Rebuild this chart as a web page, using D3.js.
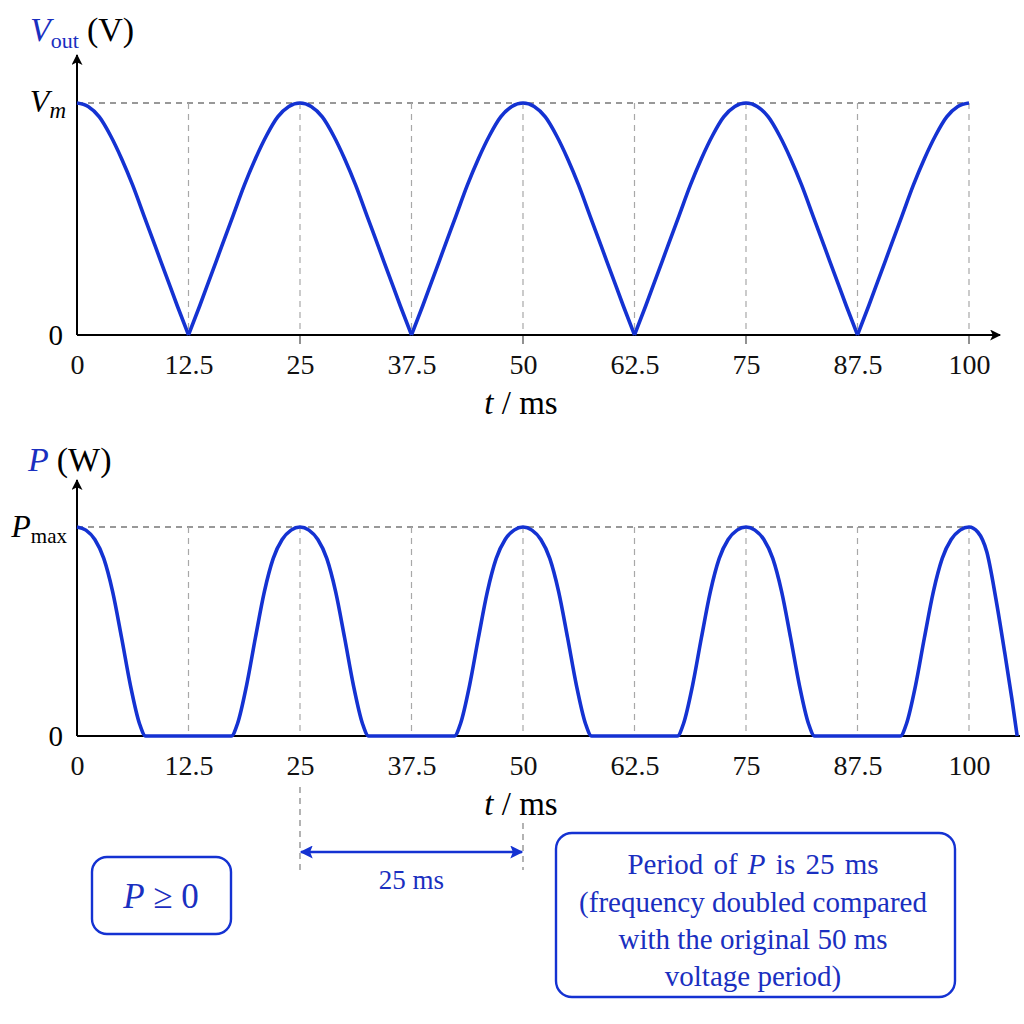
<!DOCTYPE html>
<html>
<head>
<meta charset="utf-8">
<script src="https://cdn.jsdelivr.net/npm/d3@7"></script>
<style>
  body { margin: 0; background: #fff; }
  svg { display: block; font-family: "Liberation Serif", "DejaVu Serif", serif; }
</style>
</head>
<body>
<svg id="chart" width="1024" height="1024"></svg>
<script>
// Tick positions on the time axis (ms)
var tickValues = [0, 12.5, 25, 37.5, 50, 62.5, 75, 87.5, 100];

// Full-wave rectified output voltage, as a fraction of Vm
var vTime = [0, 1.25, 2.5, 3.75, 5, 6.25, 7.5, 8.75, 10, 11.25, 12.5,
             13.75, 15, 16.25, 17.5, 18.75, 20, 21.25, 22.5, 23.75, 25,
             26.25, 27.5, 28.75, 30, 31.25, 32.5, 33.75, 35, 36.25, 37.5,
             38.75, 40, 41.25, 42.5, 43.75, 45, 46.25, 47.5, 48.75, 50,
             51.25, 52.5, 53.75, 55, 56.25, 57.5, 58.75, 60, 61.25, 62.5,
             63.75, 65, 66.25, 67.5, 68.75, 70, 71.25, 72.5, 73.75, 75,
             76.25, 77.5, 78.75, 80, 81.25, 82.5, 83.75, 85, 86.25, 87.5,
             88.75, 90, 91.25, 92.5, 93.75, 95, 96.25, 97.5, 98.75, 100];
var vValue = [1, 0.985, 0.94, 0.86, 0.76, 0.645, 0.515, 0.385, 0.255, 0.125, 0,
              0.125, 0.255, 0.385, 0.515, 0.645, 0.76, 0.86, 0.94, 0.985, 1,
              0.985, 0.94, 0.86, 0.76, 0.645, 0.515, 0.385, 0.255, 0.125, 0,
              0.125, 0.255, 0.385, 0.515, 0.645, 0.76, 0.86, 0.94, 0.985, 1,
              0.985, 0.94, 0.86, 0.76, 0.645, 0.515, 0.385, 0.255, 0.125, 0,
              0.125, 0.255, 0.385, 0.515, 0.645, 0.76, 0.86, 0.94, 0.985, 1,
              0.985, 0.94, 0.86, 0.76, 0.645, 0.515, 0.385, 0.255, 0.125, 0,
              0.125, 0.255, 0.385, 0.515, 0.645, 0.76, 0.86, 0.94, 0.985, 1];

// Instantaneous power, as a fraction of Pmax
var pTime = [0, 1, 2, 3, 4, 5, 6, 7, 7.7,
             17.3, 18, 19, 20, 21, 22, 23, 24, 25, 26, 27, 28, 29, 30, 31, 32, 32.7,
             42.3, 43, 44, 45, 46, 47, 48, 49, 50, 51, 52, 53, 54, 55, 56, 57, 57.7,
             67.3, 68, 69, 70, 71, 72, 73, 74, 75, 76, 77, 78, 79, 80, 81, 82, 82.7,
             92.3, 93, 94, 95, 96, 97, 98, 99, 100, 101, 102, 103, 104, 104.8, 105.4];
var pValue = [1, 0.985, 0.94, 0.85, 0.69, 0.47, 0.24, 0.06, 0,
              0, 0.06, 0.24, 0.47, 0.69, 0.85, 0.94, 0.985, 1, 0.985, 0.94, 0.85, 0.69, 0.47, 0.24, 0.06, 0,
              0, 0.06, 0.24, 0.47, 0.69, 0.85, 0.94, 0.985, 1, 0.985, 0.94, 0.85, 0.69, 0.47, 0.24, 0.06, 0,
              0, 0.06, 0.24, 0.47, 0.69, 0.85, 0.94, 0.985, 1, 0.985, 0.94, 0.85, 0.69, 0.47, 0.24, 0.06, 0,
              0, 0.06, 0.24, 0.47, 0.69, 0.85, 0.94, 0.985, 1, 0.975, 0.88, 0.66, 0.4, 0.18, 0];

// Notes in the boxes
var boxLines = ["(frequency doubled compared", "with the original 50 ms", "voltage period)"];

var blue = "#1432d2";
var textBlue = "#1a2fc0";
var grey = "#8a8a8a";

var svg = d3.select("#chart");

// Arrowhead markers
var defs = svg.append("defs");
defs.append("marker")
    .attr("id", "axisArrow")
    .attr("viewBox", "0 0 10 10")
    .attr("refX", 9).attr("refY", 5)
    .attr("markerWidth", 12).attr("markerHeight", 11)
    .attr("markerUnits", "userSpaceOnUse")
    .attr("orient", "auto")
  .append("path")
    .attr("d", "M0,0 L10,5 L0,10 L2.5,5 Z")
    .attr("fill", "#000");
defs.append("marker")
    .attr("id", "blueArrow")
    .attr("viewBox", "0 0 10 10")
    .attr("refX", 9).attr("refY", 5)
    .attr("markerWidth", 15).attr("markerHeight", 13)
    .attr("markerUnits", "userSpaceOnUse")
    .attr("orient", "auto-start-reverse")
  .append("path")
    .attr("d", "M0,0 L10,5 L0,10 L2,5 Z")
    .attr("fill", blue);

var xScale = d3.scaleLinear().domain([0, 100]).range([77, 969]);

// Draw one panel: axes, grid, curve
function drawPanel(cfg) {
    var yScale = d3.scaleLinear().domain([0, 1]).range([cfg.y0, cfg.yTop]);
    var g = svg.append("g");

    // Dashed reference lines
    g.append("line")
        .attr("x1", xScale(0)).attr("x2", xScale(100))
        .attr("y1", yScale(1)).attr("y2", yScale(1))
        .attr("stroke", "#777").attr("stroke-width", 1.3)
        .attr("stroke-dasharray", "6,5");
    g.selectAll(".grid")
      .data(tickValues.slice(1))
      .enter().append("line")
        .attr("x1", function(d) {return xScale(d);})
        .attr("x2", function(d) {return xScale(d);})
        .attr("y1", yScale(1))
        .attr("y2", yScale(0))
        .attr("stroke", "#a8a8a8").attr("stroke-width", 1.2)
        .attr("stroke-dasharray", "6,5");

    // Small ticks under the axis
    if (cfg.ticks) {
        g.selectAll(".tk")
          .data(cfg.ticks)
          .enter().append("line")
            .attr("x1", function(d) {return xScale(d);})
            .attr("x2", function(d) {return xScale(d);})
            .attr("y1", yScale(0))
            .attr("y2", yScale(0) + 9)
            .attr("stroke", "#555").attr("stroke-width", 1.3);
    }

    // Tick labels via d3 axis
    var axis = g.append("g")
        .attr("transform", "translate(0," + cfg.y0 + ")")
        .call(d3.axisBottom(xScale).tickValues(tickValues)
                .tickSize(0).tickPadding(19)
                .tickFormat(function(d) {return String(d);}));
    axis.select(".domain").remove();
    axis.selectAll("text")
        .attr("font-family", "Liberation Serif")
        .attr("font-size", 28)
        .attr("fill", "#111");

    // Axis lines
    g.append("line")
        .attr("x1", xScale(0)).attr("x2", cfg.xEnd)
        .attr("y1", cfg.y0).attr("y2", cfg.y0)
        .attr("stroke", "#000").attr("stroke-width", 2)
        .attr("marker-end", cfg.xArrow ? "url(#axisArrow)" : null);
    g.append("line")
        .attr("x1", xScale(0)).attr("x2", xScale(0))
        .attr("y1", cfg.y0).attr("y2", cfg.arrowTop)
        .attr("stroke", "#000").attr("stroke-width", 2)
        .attr("marker-end", "url(#axisArrow)");

    // "0" label
    g.append("text")
        .attr("x", 63).attr("y", cfg.y0 + 10)
        .attr("text-anchor", "end")
        .attr("font-size", 29)
        .text("0");

    // "t / ms" label
    var tl = g.append("text")
        .attr("x", 521).attr("y", cfg.y0 + 79)
        .attr("text-anchor", "middle")
        .attr("font-size", 33);
    tl.append("tspan").attr("font-style", "italic").text("t");
    tl.append("tspan").text(" / ms");

    // Curve, split into arches so the cusps stay sharp
    var line = d3.line()
        .x(function(d) {return xScale(d.t);})
        .y(function(d) {return yScale(d.v);})
        .curve(d3.curveMonotoneX);
    cfg.segments.forEach(function(seg) {
        g.append("path")
            .datum(seg)
            .attr("d", line)
            .attr("fill", "none")
            .attr("stroke", blue)
            .attr("stroke-width", 3.6)
            .attr("stroke-linejoin", "round");
    });

    return yScale;
}

// Build point lists
var vPoints = vTime.map(function(t, i) {return {t: t, v: vValue[i]};});
var pPoints = pTime.map(function(t, i) {return {t: t, v: pValue[i]};});

// Split voltage at the zeros
var vSegments = [];
var current = [];
vPoints.forEach(function(p, i) {
    current.push(p);
    if (p.v === 0 && i > 0) {
        vSegments.push(current);
        current = [p];
    }
});
if (current.length > 1) vSegments.push(current);

// Top panel
drawPanel({y0: 335, yTop: 103, arrowTop: 55, xEnd: 1000, xArrow: true,
           ticks: [25, 50, 75, 100], segments: vSegments});

// Bottom panel
drawPanel({y0: 736, yTop: 527, arrowTop: 480, xEnd: 1020, xArrow: false,
           ticks: null, segments: [pPoints]});

// Y-axis titles
var t1 = svg.append("text").attr("x", 30).attr("y", 41).attr("font-size", 34);
t1.append("tspan").attr("font-style", "italic").attr("fill", textBlue).text("V");
t1.append("tspan").attr("fill", textBlue).attr("font-size", 22).attr("dy", 7).text("out");
t1.append("tspan").attr("dy", -7).attr("dx", 8).text("(V)");

var t2 = svg.append("text").attr("x", 66).attr("y", 112).attr("text-anchor", "end").attr("font-size", 32);
t2.append("tspan").attr("font-style", "italic").text("V");
t2.append("tspan").attr("font-style", "italic").attr("font-size", 23).attr("dy", 6).text("m");

var t3 = svg.append("text").attr("x", 28).attr("y", 471).attr("font-size", 34);
t3.append("tspan").attr("font-style", "italic").attr("fill", textBlue).text("P");
t3.append("tspan").attr("dx", 8).text("(W)");

var t4 = svg.append("text").attr("x", 67).attr("y", 537).attr("text-anchor", "end").attr("font-size", 32);
t4.append("tspan").attr("font-style", "italic").text("P");
t4.append("tspan").attr("font-size", 21).attr("dy", 6).text("max");

// Period dimension between the 25 and 50 ms peaks
svg.append("line")
    .attr("x1", xScale(25)).attr("x2", xScale(25))
    .attr("y1", 787).attr("y2", 872)
    .attr("stroke", grey).attr("stroke-width", 1.3).attr("stroke-dasharray", "6,5");
svg.append("line")
    .attr("x1", xScale(50)).attr("x2", xScale(50))
    .attr("y1", 823).attr("y2", 870)
    .attr("stroke", grey).attr("stroke-width", 1.3).attr("stroke-dasharray", "6,5");
svg.append("line")
    .attr("x1", xScale(25) + 1).attr("x2", xScale(50) - 1)
    .attr("y1", 852).attr("y2", 852)
    .attr("stroke", blue).attr("stroke-width", 2.4)
    .attr("marker-start", "url(#blueArrow)")
    .attr("marker-end", "url(#blueArrow)");
svg.append("text")
    .attr("x", (xScale(25) + xScale(50)) / 2).attr("y", 889)
    .attr("text-anchor", "middle")
    .attr("font-size", 27).attr("fill", textBlue)
    .text("25 ms");

// Left note box
svg.append("rect")
    .attr("x", 92).attr("y", 857).attr("width", 139).attr("height", 77)
    .attr("rx", 15)
    .attr("fill", "none").attr("stroke", blue).attr("stroke-width", 2.4);
var b1 = svg.append("text")
    .attr("x", 161).attr("y", 908)
    .attr("text-anchor", "middle")
    .attr("font-size", 35).attr("fill", textBlue);
b1.append("tspan").attr("font-style", "italic").text("P");
b1.append("tspan").text(" \u2265 0");

// Right note box
svg.append("rect")
    .attr("x", 556).attr("y", 833).attr("width", 399).attr("height", 164)
    .attr("rx", 16)
    .attr("fill", "none").attr("stroke", blue).attr("stroke-width", 2.4);
var first = svg.append("text")
    .attr("x", 753).attr("y", 874)
    .attr("text-anchor", "middle")
    .attr("font-size", 29).attr("fill", textBlue)
    .attr("word-spacing", 3);
first.append("tspan").text("Period of ");
first.append("tspan").attr("font-style", "italic").text("P");
first.append("tspan").text(" is 25 ms");
svg.selectAll(".note")
  .data(boxLines)
  .enter().append("text")
    .attr("x", 753)
    .attr("y", function(d, i) {return 912 + i * 37;})
    .attr("text-anchor", "middle")
    .attr("font-size", 29).attr("fill", textBlue)
    .text(function(d) {return d;});
</script>
</body>
</html>
